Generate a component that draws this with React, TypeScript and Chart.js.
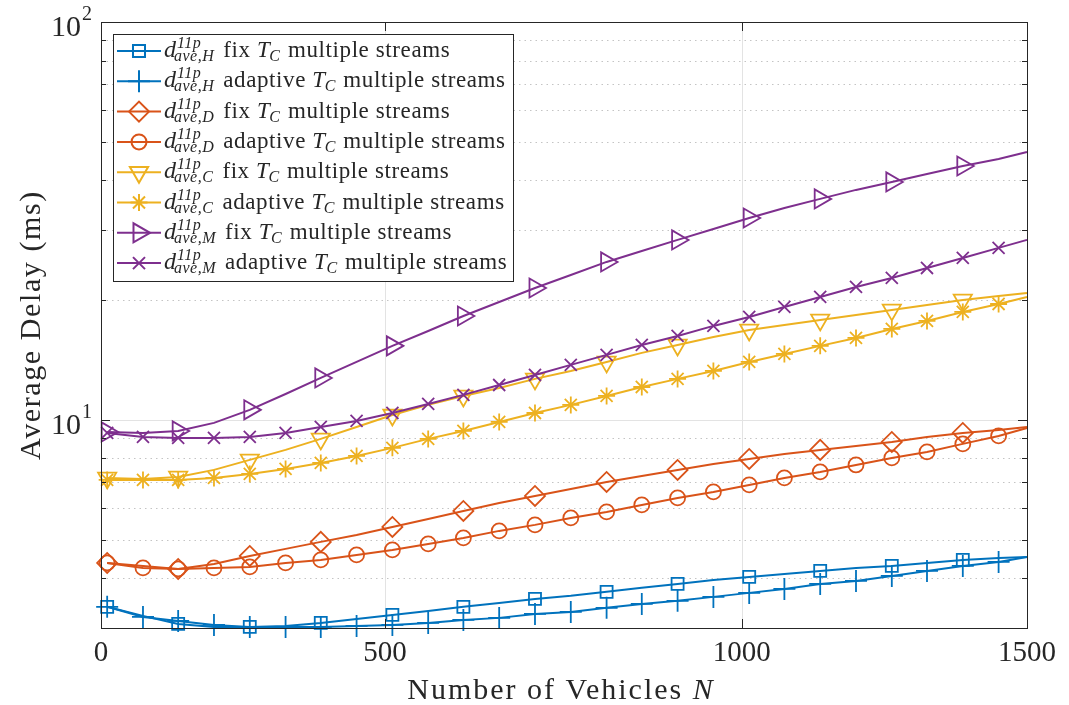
import React, { useEffect, useRef } from 'react';
import { Chart, registerables } from 'chart.js';
import { drawPoint } from 'chart.js/helpers';

Chart.register(...registerables);

// ---- data ----
const N_VALUES = [10, 68, 125, 183, 241, 299, 356, 414, 472, 530, 587, 645, 703, 761, 819, 876, 934, 992, 1050, 1107, 1165, 1223, 1281, 1338, 1396, 1454, 1500];

const FIX_H = [3.391, 3.218, 3.072, 3.019, 3.019, 3.037, 3.090, 3.162, 3.236, 3.312, 3.391, 3.469, 3.550, 3.613, 3.698, 3.785, 3.872, 3.963, 4.032, 4.103, 4.174, 4.248, 4.297, 4.372, 4.449, 4.501, 4.527];
const ADAPT_H = [3.391, 3.199, 3.126, 3.054, 3.019, 3.019, 3.019, 3.037, 3.054, 3.090, 3.144, 3.181, 3.255, 3.293, 3.371, 3.449, 3.510, 3.592, 3.676, 3.762, 3.872, 3.940, 4.055, 4.174, 4.297, 4.397, 4.527];
const FIX_D = [4.372, 4.297, 4.223, 4.346, 4.553, 4.742, 4.938, 5.141, 5.385, 5.640, 5.907, 6.186, 6.442, 6.708, 6.986, 7.233, 7.489, 7.753, 7.981, 8.215, 8.408, 8.605, 8.806, 9.065, 9.276, 9.438, 9.603];
const ADAPT_D = [4.372, 4.248, 4.223, 4.248, 4.272, 4.372, 4.449, 4.579, 4.714, 4.880, 5.052, 5.262, 5.448, 5.673, 5.873, 6.115, 6.368, 6.594, 6.866, 7.150, 7.402, 7.707, 8.027, 8.311, 8.706, 9.116, 9.548];
const FIX_C = [7.150, 7.109, 7.191, 7.489, 7.935, 8.408, 8.961, 9.603, 10.29, 10.91, 11.49, 12.03, 12.68, 13.28, 13.99, 14.74, 15.43, 16.16, 16.83, 17.33, 17.84, 18.36, 18.90, 19.45, 20.02, 20.49, 20.85];
const ADAPT_C = [7.068, 7.068, 7.068, 7.150, 7.317, 7.532, 7.798, 8.121, 8.507, 8.961, 9.384, 9.885, 10.41, 10.91, 11.49, 12.10, 12.68, 13.28, 13.99, 14.65, 15.35, 16.07, 16.93, 17.73, 18.68, 19.56, 20.37];
const FIX_M = [9.329, 9.276, 9.384, 9.829, 10.60, 11.62, 12.75, 13.99, 15.35, 16.73, 18.25, 19.79, 21.46, 23.14, 24.95, 26.59, 28.34, 30.20, 32.17, 34.10, 35.93, 37.85, 39.63, 41.51, 43.47, 45.27, 47.14];
const ADAPT_M = [9.276, 9.065, 9.013, 9.013, 9.065, 9.276, 9.603, 9.943, 10.41, 10.97, 11.56, 12.24, 12.97, 13.75, 14.57, 15.43, 16.26, 17.23, 18.15, 19.23, 20.37, 21.59, 22.74, 24.09, 25.53, 27.06, 28.34];

const X_TICK_POS = [0, 460, 1038, 1500];
const X_TICK_LABELS = ['0', '500', '1000', '1500'];
const Y_MAJOR = [10, 100];
const Y_MAJOR_EXP = ['1', '2'];
const Y_MINOR = [3, 4, 5, 6, 7, 8, 9, 20, 30, 40, 50, 60, 70, 80, 90];

const SERIES_SUB = ['H', 'H', 'D', 'D', 'C', 'C', 'M', 'M'];
const SERIES_MODE = ['fix', 'adaptive', 'fix', 'adaptive', 'fix', 'adaptive', 'fix', 'adaptive'];

const X_TITLE = 'Number of Vehicles ';
const X_TITLE_VAR = 'N';
const Y_TITLE = 'Average Delay (ms)';

// ---- styles ----
const FONT = '"Liberation Serif", "Times New Roman", serif';
const TEXT = '#262626';
const BLUE = '#0072BD';
const ORANGE = '#D95319';
const YELLOW = '#EDB120';
const PURPLE = '#7E2F8E';

type Spec = { vals: number[]; color: string; style: string; rot: number; r: number; step: number };
const SPECS: Spec[] = [
  { vals: FIX_H, color: BLUE, style: 'rect', rot: 0, r: 8.5, step: 2 },
  { vals: ADAPT_H, color: BLUE, style: 'cross', rot: 0, r: 11, step: 1 },
  { vals: FIX_D, color: ORANGE, style: 'rectRot', rot: 0, r: 10, step: 2 },
  { vals: ADAPT_D, color: ORANGE, style: 'circle', rot: 0, r: 7.5, step: 1 },
  { vals: FIX_C, color: YELLOW, style: 'triangle', rot: 180, r: 10.5, step: 2 },
  { vals: ADAPT_C, color: YELLOW, style: 'star', rot: 0, r: 8.5, step: 1 },
  { vals: FIX_M, color: PURPLE, style: 'triangle', rot: 90, r: 11, step: 2 },
  { vals: ADAPT_M, color: PURPLE, style: 'crossRot', rot: 0, r: 8.5, step: 1 },
];

function setSpacing(ctx: any, v: string) {
  if ('letterSpacing' in ctx) ctx.letterSpacing = v;
}

const matlabPlugin = {
  id: 'matlabLook',
  beforeDatasetsDraw(chart: any) {
    const { ctx, chartArea: a, scales } = chart;
    const x = scales.x;
    const y = scales.y;
    ctx.save();
    ctx.lineWidth = 1;
    ctx.strokeStyle = '#e3e3e3';
    ctx.setLineDash([]);
    for (let i = 1; i < X_TICK_POS.length - 1; i++) {
      const px = Math.round(x.getPixelForValue(X_TICK_POS[i])) + 0.5;
      ctx.beginPath(); ctx.moveTo(px, a.top); ctx.lineTo(px, a.bottom); ctx.stroke();
    }
    for (const v of Y_MAJOR) {
      const py = Math.round(y.getPixelForValue(v)) + 0.5;
      ctx.beginPath(); ctx.moveTo(a.left, py); ctx.lineTo(a.right, py); ctx.stroke();
    }
    ctx.strokeStyle = '#c4c4c4';
    ctx.setLineDash([1.5, 4]);
    for (const v of Y_MINOR) {
      const py = Math.round(y.getPixelForValue(v)) + 0.5;
      ctx.beginPath(); ctx.moveTo(a.left, py); ctx.lineTo(a.right, py); ctx.stroke();
    }
    ctx.restore();
  },
  afterDatasetsDraw(chart: any) {
    const { ctx, chartArea: a, scales } = chart;
    const x = scales.x;
    const y = scales.y;
    ctx.save();
    // axes box
    ctx.setLineDash([]);
    ctx.strokeStyle = TEXT;
    ctx.lineWidth = 1;
    ctx.strokeRect(Math.round(a.left) + 0.5, Math.round(a.top) + 0.5, Math.round(a.right - a.left), Math.round(a.bottom - a.top));
    // ticks
    const tick = (x1: number, y1: number, x2: number, y2: number) => {
      ctx.beginPath(); ctx.moveTo(x1, y1); ctx.lineTo(x2, y2); ctx.stroke();
    };
    for (const v of Y_MAJOR) {
      const py = Math.round(y.getPixelForValue(v)) + 0.5;
      tick(a.left, py, a.left + 9, py); tick(a.right, py, a.right - 9, py);
    }
    for (const v of Y_MINOR) {
      const py = Math.round(y.getPixelForValue(v)) + 0.5;
      tick(a.left, py, a.left + 5, py); tick(a.right, py, a.right - 5, py);
    }
    for (const v of X_TICK_POS) {
      const px = Math.round(x.getPixelForValue(v)) + 0.5;
      tick(px, a.bottom, px, a.bottom - 9); tick(px, a.top, px, a.top + 9);
    }
    // tick labels
    ctx.fillStyle = TEXT;
    ctx.textBaseline = 'middle';
    ctx.textAlign = 'center';
    ctx.font = `29px ${FONT}`;
    X_TICK_POS.forEach((v, i) => {
      ctx.fillText(X_TICK_LABELS[i], x.getPixelForValue(v), a.bottom + 25);
    });
    Y_MAJOR.forEach((v, i) => {
      const py = y.getPixelForValue(v);
      ctx.font = `20px ${FONT}`;
      const ew = ctx.measureText(Y_MAJOR_EXP[i]).width;
      ctx.textAlign = 'right';
      ctx.textBaseline = 'alphabetic';
      ctx.fillText(Y_MAJOR_EXP[i], a.left - 9, py - 2);
      ctx.font = `30px ${FONT}`;
      ctx.fillText('10', a.left - 10 - ew, py + 14);
    });
    // axis titles
    setSpacing(ctx, '2px');
    ctx.font = `30px ${FONT}`;
    ctx.textAlign = 'left';
    ctx.textBaseline = 'alphabetic';
    const w1 = ctx.measureText(X_TITLE).width;
    ctx.font = `italic 30px ${FONT}`;
    const w2 = ctx.measureText(X_TITLE_VAR).width;
    const cx = (a.left + a.right) / 2 - 3;
    const sx = cx - (w1 + w2) / 2;
    ctx.font = `30px ${FONT}`;
    ctx.fillText(X_TITLE, sx, 699);
    ctx.font = `italic 30px ${FONT}`;
    ctx.fillText(X_TITLE_VAR, sx + w1, 699);

    ctx.save();
    setSpacing(ctx, '1.6px');
    ctx.translate(40, (a.top + a.bottom) / 2);
    ctx.rotate(-Math.PI / 2);
    ctx.font = `30px ${FONT}`;
    ctx.textAlign = 'center';
    ctx.textBaseline = 'alphabetic';
    ctx.fillText(Y_TITLE, 0, 0);
    ctx.restore();

    // legend
    const bx = 113, by = 34, bw = 400, bh = 247;
    setSpacing(ctx, '0px');
    ctx.fillStyle = '#ffffff';
    ctx.fillRect(bx, by, bw, bh);
    ctx.strokeStyle = TEXT;
    ctx.lineWidth = 1;
    ctx.strokeRect(bx + 0.5, by + 0.5, bw, bh);
    SPECS.forEach((s, i) => {
      const cy = 51 + i * 30.3;
      ctx.strokeStyle = s.color;
      ctx.lineWidth = 2;
      ctx.setLineDash([]);
      ctx.beginPath(); ctx.moveTo(117, cy); ctx.lineTo(161, cy); ctx.stroke();
      ctx.fillStyle = 'rgba(0,0,0,0)';
      drawPoint(ctx, { pointStyle: s.style, rotation: s.rot, radius: s.r, borderWidth: 1.8 } as any, 139, cy);

      ctx.fillStyle = TEXT;
      ctx.textAlign = 'left';
      ctx.textBaseline = 'alphabetic';
      setSpacing(ctx, '0px');
      ctx.font = `italic 24px ${FONT}`;
      ctx.fillText('d', 164, cy + 6);
      const dW = ctx.measureText('d').width;
      ctx.font = `italic 16px ${FONT}`;
      setSpacing(ctx, '0.5px');
      const sup = '11p';
      const sub = 'ave,' + SERIES_SUB[i];
      ctx.fillText(sup, 164 + dW + 1, cy - 3);
      ctx.fillText(sub, 164 + dW - 2, cy + 10);
      const end = Math.max(164 + dW + 1 + ctx.measureText(sup).width, 164 + dW - 2 + ctx.measureText(sub).width);
      let tx = end + 9;
      setSpacing(ctx, '0.6px');
      ctx.font = `23px ${FONT}`;
      const mode = SERIES_MODE[i] + ' ';
      ctx.fillText(mode, tx, cy + 6);
      tx += ctx.measureText(mode).width;
      ctx.font = `italic 23px ${FONT}`;
      ctx.fillText('T', tx, cy + 6);
      tx += ctx.measureText('T').width;
      ctx.font = `italic 16px ${FONT}`;
      ctx.fillText('C', tx - 1, cy + 10);
      tx += ctx.measureText('C').width;
      ctx.font = `23px ${FONT}`;
      ctx.fillText(' multiple streams', tx, cy + 6);
    });
    ctx.restore();
  },
};

export default function App() {
  const ref = useRef<HTMLCanvasElement | null>(null);
  useEffect(() => {
    if (!ref.current) return;
    const datasets = SPECS.map((s, i) => ({
      label: SERIES_MODE[i] + ' ' + SERIES_SUB[i],
      data: N_VALUES.map((n, k) => ({ x: n, y: s.vals[k] })),
      borderColor: s.color,
      backgroundColor: 'rgba(0,0,0,0)',
      borderWidth: 2,
      fill: false,
      tension: 0,
      clip: false as any,
      order: SPECS.length - i,
      pointStyle: s.style as any,
      pointRotation: s.rot,
      pointBorderColor: s.color,
      pointBackgroundColor: 'rgba(0,0,0,0)',
      pointBorderWidth: 1.8,
      pointRadius: (c: any) => (c.dataIndex < N_VALUES.length - 1 && c.dataIndex % s.step === 0 ? s.r : 0),
      pointHoverRadius: 0,
    }));
    const chart = new Chart(ref.current, {
      type: 'line',
      data: { datasets },
      options: {
        responsive: false,
        animation: false,
        devicePixelRatio: 1,
        events: [],
        layout: { padding: { top: 22, right: 42, left: 0, bottom: 0 } },
        plugins: { legend: { display: false }, tooltip: { enabled: false } },
        scales: {
          x: {
            type: 'linear', min: 0, max: 1500,
            ticks: { display: false }, grid: { display: false }, border: { display: false },
            afterFit: (sc: any) => { sc.height = 77; },
          },
          y: {
            type: 'logarithmic', min: 3, max: 100,
            ticks: { display: false }, grid: { display: false }, border: { display: false },
            afterFit: (sc: any) => { sc.width = 101; },
          },
        },
      } as any,
      plugins: [matlabPlugin],
    });
    return () => chart.destroy();
  }, []);
  return (
    <div style={{ position: 'fixed', left: 0, top: 0, width: 1069, height: 705, background: '#ffffff' }}>
      <canvas ref={ref} width={1069} height={705} style={{ display: 'block' }} />
    </div>
  );
}
